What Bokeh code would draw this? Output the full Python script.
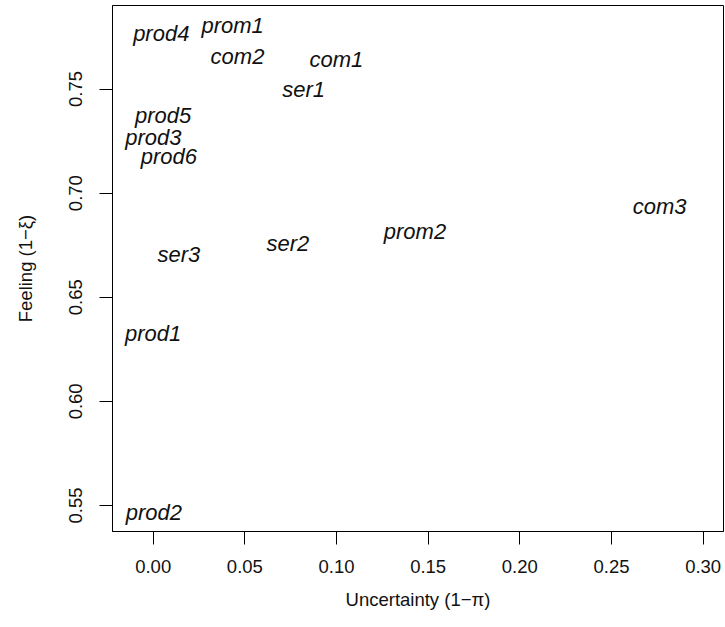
from bokeh.plotting import figure
from bokeh.models import ColumnDataSource, FixedTicker, PrintfTickFormatter, Range1d
from bokeh.core.properties import value
from bokeh.embed import file_html
from bokeh.resources import INLINE

# Data
labels = ["prod4", "prom1", "com2", "com1", "ser1", "prod5", "prod3", "prod6",
          "com3", "prom2", "ser2", "ser3", "prod1", "prod2"]
uncertainty = [0.0044, 0.0433, 0.0460, 0.0999, 0.0821, 0.0054, 0.0001, 0.0085,
               0.2763, 0.1428, 0.0735, 0.0140, 0.0000, 0.0004]
feeling = [0.7766, 0.7805, 0.7657, 0.7640, 0.7498, 0.7372, 0.7266, 0.7178,
           0.6936, 0.6815, 0.6760, 0.6705, 0.6326, 0.5465]

x_ticks = [0.00, 0.05, 0.10, 0.15, 0.20, 0.25, 0.30]
y_ticks = [0.55, 0.60, 0.65, 0.70, 0.75]

FONT = "Liberation Sans"

src = ColumnDataSource(dict(x=uncertainty, y=feeling, label=labels))

p = figure(width=725, height=627, output_backend="svg", toolbar_location=None,
           x_range=Range1d(-0.0222, 0.3111), y_range=Range1d(0.5375, 0.7901),
           min_border_left=112, min_border_right=2, min_border_top=5,
           min_border_bottom=96, background_fill_color="white",
           border_fill_color="white")

p.outline_line_color = "black"
p.outline_line_width = 1
p.xgrid.visible = False
p.ygrid.visible = False

p.text(x="x", y="y", text="label", source=src,
       text_font=value(FONT), text_font_style="italic", text_font_size="22px",
       text_align="center", text_baseline="middle", text_color="#111111")

for ax, ticks in ((p.xaxis[0], x_ticks), (p.yaxis[0], y_ticks)):
    ax.ticker = FixedTicker(ticks=ticks)
    ax.formatter = PrintfTickFormatter(format="%.2f")
    ax.minor_tick_line_color = None
    ax.major_tick_in = 0
    ax.major_tick_out = 13
    ax.axis_line_color = "black"
    ax.major_tick_line_color = "black"
    ax.major_label_text_font = FONT
    ax.major_label_text_font_size = "18.5px"
    ax.major_label_text_color = "#111111"
    ax.axis_label_text_font = FONT
    ax.axis_label_text_font_size = "18.5px"
    ax.axis_label_text_font_style = "normal"
    ax.axis_label_text_color = "#111111"

p.xaxis.axis_label = "Uncertainty (1\u2212\u03c0)"
p.yaxis.axis_label = "Feeling (1\u2212\u03be)"
p.xaxis.major_label_standoff = 15
p.xaxis.axis_label_standoff = 13
p.yaxis.major_label_orientation = "vertical"
p.yaxis.major_label_standoff = 17
p.yaxis.axis_label_standoff = 31

open("out.html", "w").write(file_html(p, INLINE))
